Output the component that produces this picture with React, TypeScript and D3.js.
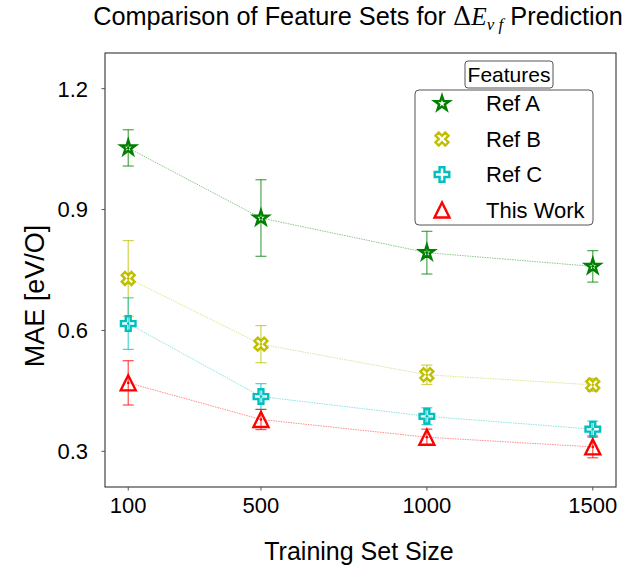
import React from "react";
import * as d3 from "d3";

const sizes = [100, 500, 1000, 1500];
const xTicks = [100, 500, 1000, 1500];
const yTicks = [0.3, 0.6, 0.9, 1.2];

const seriesNames = ["Ref A", "Ref B", "Ref C", "This Work"];
const seriesColors = ["#008000", "#bfbf00", "#00bfbf", "#ff0000"];
const refA = [1.053, 0.879, 0.793, 0.759];
const refAErr = [0.045, 0.095, 0.053, 0.039];
const refB = [0.729, 0.566, 0.49, 0.465];
const refBErr = [0.094, 0.046, 0.024, 0.016];
const refC = [0.617, 0.436, 0.387, 0.355];
const refCErr = [0.064, 0.032, 0.021, 0.02];
const thisWork = [0.47, 0.379, 0.335, 0.311];
const thisWorkErr = [0.055, 0.025, 0.02, 0.027];

const seriesValues = [refA, refB, refC, thisWork];
const seriesErrors = [refAErr, refBErr, refCErr, thisWorkErr];
const markerKinds = ["star", "x", "plus", "triangle"];

const W = 628;
const H = 572;
const L = 105;
const R = 616;
const T = 53;
const B = 487;
const FONT = "'Liberation Sans', Arial, sans-serif";

function markerPath(kind: string): string {
  if (kind === "star") return d3.symbol(d3.symbolStar, 66)() as string;
  if (kind === "plus") return d3.symbol(d3.symbolCross, 118)() as string;
  if (kind === "x") return d3.symbol(d3.symbolCross, 105)() as string;
  // matplotlib-like triangle (bbox centred, width == height)
  const p = d3.path();
  const h = 7.5;
  p.moveTo(0, -h);
  p.lineTo(-h, h);
  p.lineTo(h, h);
  p.closePath();
  return p.toString();
}

function Marker({ kind, color, x, y, dot }: any) {
  const rot = kind === "x" ? 45 : 0;
  return (
    <g transform={`translate(${x},${y}) rotate(${rot})`}>
      <path d={markerPath(kind)} fill="none" stroke={color} strokeWidth={2.4} strokeLinejoin="miter" />
      {dot && <circle r={1.3} fill={color} />}
    </g>
  );
}

export default function App() {
  const x = d3.scaleLinear().domain([30, 1570]).range([L, R]);
  const y = d3.scaleLinear().domain([0.2115, 1.2885]).range([B, T]);
  const line = d3
    .line<number>()
    .x((_, i) => x(sizes[i]))
    .y((d) => y(d));

  return (
    <svg width={W} height={H} style={{ position: "absolute", left: 0, top: 0, background: "#fff" }}>
      <rect x={0} y={0} width={W} height={H} fill="#fff" />
      {/* title */}
      <text x={358} y={25} textAnchor="middle" fontFamily={FONT} fontSize={25.3} fill="#000">
        Comparison of Feature Sets for{" "}
        <tspan fontFamily="'DejaVu Serif', serif">Δ</tspan>
        <tspan fontFamily="'Liberation Serif', serif" fontStyle="italic">E</tspan>
        <tspan fontFamily="'Liberation Serif', serif" fontStyle="italic" fontSize={17} dy={5}>
          v f
        </tspan>
        <tspan dy={-5}> Prediction</tspan>
      </text>

      {/* series lines */}
      {seriesValues.map((vals, si) => (
        <path
          key={"l" + si}
          d={line(vals) as string}
          fill="none"
          stroke={seriesColors[si]}
          strokeOpacity={0.45}
          strokeWidth={1}
          strokeDasharray="1.5,1"
        />
      ))}

      {/* error bars */}
      {seriesValues.map((vals, si) =>
        vals.map((v, i) => {
          const cx = x(sizes[i]);
          const e = seriesErrors[si][i];
          const y1 = y(v + e);
          const y2 = y(v - e);
          return (
            <g key={"e" + si + "-" + i} stroke={seriesColors[si]} strokeOpacity={0.7} strokeWidth={1.2}>
              <line x1={cx} x2={cx} y1={y1} y2={y2} />
              <line x1={cx - 5.5} x2={cx + 5.5} y1={y1} y2={y1} />
              <line x1={cx - 5.5} x2={cx + 5.5} y1={y2} y2={y2} />
            </g>
          );
        })
      )}

      {/* markers */}
      {seriesValues.map((vals, si) =>
        vals.map((v, i) => (
          <Marker
            key={"m" + si + "-" + i}
            kind={markerKinds[si]}
            color={seriesColors[si]}
            x={x(sizes[i])}
            y={y(v)}
            dot
          />
        ))
      )}

      {/* frame */}
      <rect x={L} y={T} width={R - L} height={B - T} fill="none" stroke="#333" strokeWidth={1.1} />

      {/* y ticks */}
      {yTicks.map((t) => (
        <g key={"yt" + t}>
          <line x1={L - 3.5} x2={L} y1={y(t)} y2={y(t)} stroke="#555" strokeWidth={1} />
          <text x={88} y={y(t)} dy="0.36em" textAnchor="end" fontFamily={FONT} fontSize={22} fill="#000">
            {d3.format(".1f")(t)}
          </text>
        </g>
      ))}

      {/* x ticks */}
      {xTicks.map((t) => (
        <g key={"xt" + t}>
          <line x1={x(t)} x2={x(t)} y1={B} y2={B + 3.5} stroke="#555" strokeWidth={1} />
          <text x={x(t)} y={513} textAnchor="middle" fontFamily={FONT} fontSize={22} fill="#000">
            {t}
          </text>
        </g>
      ))}

      {/* axis labels */}
      <text x={359} y={560} textAnchor="middle" fontFamily={FONT} fontSize={25} fill="#000">
        Training Set Size
      </text>
      <text
        transform={`translate(44,296) rotate(-90)`}
        textAnchor="middle"
        fontFamily={FONT}
        fontSize={27}
        fill="#000"
      >
        MAE [eV/O]
      </text>

      {/* legend */}
      <rect x={465} y={61} width={88} height={27} rx={3} fill="#fff" fillOpacity={0.8} stroke="#555" strokeWidth={1} />
      <text x={509} y={81.5} textAnchor="middle" fontFamily={FONT} fontSize={21} fill="#000">
        Features
      </text>
      <rect x={415} y={90} width={178} height={135} rx={4} fill="#fff" fillOpacity={0.8} stroke="#555" strokeWidth={1} />
      {seriesNames.map((name, si) => {
        const cy = 103.5 + si * 35.5;
        return (
          <g key={"lg" + si}>
            <Marker kind={markerKinds[si]} color={seriesColors[si]} x={442} y={cy} dot={false} />
            <text x={486} y={cy + 7.5} fontFamily={FONT} fontSize={22} fill="#000">
              {name}
            </text>
          </g>
        );
      })}
    </svg>
  );
}
